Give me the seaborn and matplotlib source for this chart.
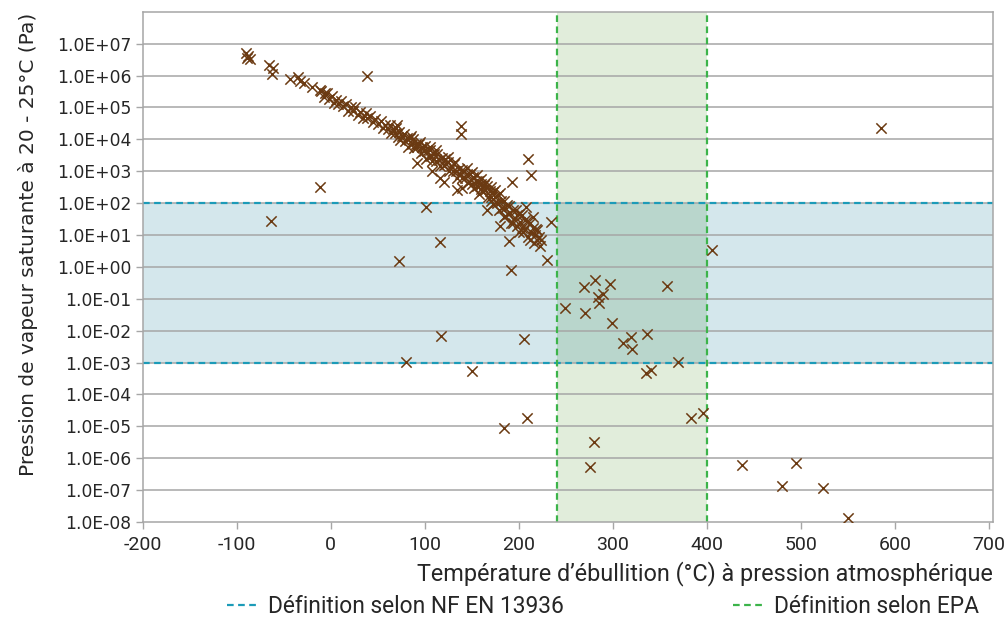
import matplotlib
matplotlib.use("Agg")
import matplotlib.pyplot as plt
import matplotlib.ticker as mticker
from matplotlib.lines import Line2D
import numpy as np
import pandas as pd
import seaborn as sns

# ---- data: boiling point (°C) and saturated vapour pressure (Pa) ----
cluster_T = [
    -90, -89, -88, -86, -66, -61, -63, -43, -35, -33, -29, -20, -11, -6,
    -10, -7, -4, -2, 1, 3, 6, 8, 11, 13, 16, 18, 21, 24, 26, 29, 31, 34, 37, 39,
    42, 45, 47, 50, 53, 56, 58, 61,
    63, 64, 66, 68, 69, 71, 73, 74, 76, 78, 79, 81, 82, 84, 86, 87, 89, 91, 92,
    94, 96, 97, 99, 100, 101, 102, 104, 105, 107, 108, 110, 112, 113, 115, 116,
    118, 120, 121, 123, 125, 126, 128, 130, 131, 133, 134, 136, 137, 139, 140,
    92, 116, 120, 108, 134, 140,
    142, 143, 145, 146, 148, 149, 151, 152, 154, 155, 157, 158, 160, 161, 163,
    164, 166, 167, 169, 170, 172, 173, 175, 176, 178, 179, 181, 182, 184, 185,
    187, 188, 190, 191, 192, 194, 195, 197, 198, 200, 201, 203, 204, 206, 207,
    209, 210, 212, 213, 215, 216, 218, 219, 221, 222, 224,
    190, 212, 217, 200, 180,
    185, 198, 203, 215, 219, 208, 177, 166, 184, 194,
    70, 85, 95, 105, 112, 125, 132, 145, 150, 155, 160, 165, 170, 175, 180,
    150, 160, 170,
]
cluster_P = [
    5.2e6, 3.5e6, 4.2e6, 3.3e6, 2.1e6, 1.7e6, 1.15e6, 7.8e5, 9.3e5, 6.5e5, 5.8e5, 4.3e5, 3.6e5, 2.8e5,
    3.2e5, 2.1e5, 2.9e5, 1.9e5, 2.2e5, 1.35e5, 1.7e5, 1.26e5, 1.6e5, 1.07e5, 1.26e5, 7.8e4, 1.05e5,
    7.6e4, 1.0e5, 5.9e4, 7.4e4, 4.8e4, 6.6e4, 4.8e4, 5.2e4, 3.4e4, 4.3e4, 3.0e4, 3.7e4, 2.3e4, 2.9e4, 2.1e4,
    2.75e4, 1.6e4, 2.1e4, 1.55e4, 2.3e4, 1.2e4, 1.65e4, 9.3e3, 1.26e4, 1.45e4, 8.7e3, 1.07e4, 5.9e3,
    1.1e4, 7.1e3, 1.0e4, 5.4e3, 7.2e3, 5.9e3, 7.2e3, 3.7e3, 5.6e3, 4.2e3, 6.3e3, 2.4e3, 4.3e3, 3.0e3,
    4.6e3, 3.0e3, 2.1e3, 3.5e3, 2.1e3, 3.5e3, 2.2e3, 1.45e3, 2.5e3, 1.6e3, 2.4e3, 1.65e3, 1.95e3, 9.8e2,
    1.5e3, 1.05e3, 1.65e3, 1.05e3, 6.3e2, 1.15e3, 7.9e2, 1.1e3, 6.3e2,
    1.8e3, 6.0e2, 4.7e2, 1.0e3, 2.6e2, 3.0e2,
    1.0e3, 6.2e2, 7.9e2, 4.3e2, 8.1e2, 5.2e2, 6.5e2, 2.9e2, 5.0e2, 3.4e2, 5.1e2, 1.95e2, 4.0e2, 2.4e2,
    3.8e2, 2.5e2, 3.5e2, 1.5e2, 2.4e2, 1.6e2, 2.3e2, 9.5e1, 1.6e2, 1.07e2, 1.8e2, 6.0e1, 1.2e2, 7.2e1,
    1.17e2, 4.0e1, 8.9e1, 4.7e1, 8.3e1, 5.0e1, 2.3e1, 5.9e1, 3.2e1, 6.0e1, 1.95e1, 4.5e1, 2.6e1, 4.1e1,
    1.2e1, 3.0e1, 1.55e1, 2.7e1, 8.9, 2.3e1, 1.2e1, 1.6e1, 5.8, 1.5e1, 6.9, 8.7, 4.6, 7.2,
    6.5, 6.9, 10.0, 12.0, 19.0,
    69, 43, 16, 37, 14.5, 78, 98, 60, 37, 23,
    2.8e4, 1.3e4, 8.5e3, 5.8e3, 4.5e3, 2.8e3, 2.0e3, 1.3e3, 9.5e2, 7.5e2, 5.5e2, 4.5e2, 3.3e2, 2.6e2, 2.0e2,
    4.0e2, 2.8e2, 1.2e2,
]
outlier_T = [
    -64, -11, 38, 73, 80, 101, 116, 117, 138, 138, 150, 184, 192, 193, 205, 209,
    210, 213, 230, 234, 249, 269, 270, 276, 280, 281, 284, 285, 289, 297, 299,
    311, 319, 320, 335, 336, 340, 357, 369, 383, 396, 405, 437, 480, 495, 523,
    550, 585,
]
outlier_P = [
    28, 320, 9.5e5, 1.5, 1.05e-3, 78, 6.0, 7.0e-3, 2.7e4, 1.5e4, 5.5e-4, 9.0e-6,
    0.8, 4.5e2, 5.5e-3, 1.8e-5, 2.4e3, 7.5e2, 1.7, 25, 5.0e-2, 0.23, 0.035,
    5.5e-7, 3.3e-6, 0.38, 0.115, 0.072, 0.14, 0.30, 0.018, 4.2e-3, 6.2e-3,
    2.6e-3, 4.6e-4, 8.0e-3, 5.7e-4, 0.25, 1.05e-3, 1.8e-5, 2.6e-5, 3.5,
    6.3e-7, 1.3e-7, 7.0e-7, 1.2e-7, 1.3e-8, 2.2e4,
]

nf_en_range = (1e-3, 1e2)      # NF EN 13936 definition (Pa)
epa_range = (240, 400)         # EPA definition (°C)

x_ticks = [-200, -100, 0, 100, 200, 300, 400, 500, 600, 700]
y_ticks = [10.0 ** e for e in range(-8, 8)]

xlabel = "Température d’ébullition (°C) à pression atmosphérique"
ylabel = "Pression de vapeur saturante à 20 - 25°C (Pa)"
legend_labels = ["Définition selon NF EN 13936", "Définition selon EPA"]

df = pd.DataFrame({
    "T": cluster_T + outlier_T,
    "P": cluster_P + outlier_P,
})

# ---- styling ----
sns.set_theme(style="white")
plt.rcParams["font.family"] = ["DejaVu Sans"]
plt.rcParams["axes.unicode_minus"] = False

narrow = "Roboto"
brown = "#6B3A12"
grid_gray = "#A6A6A6"
blue_line = "#1C9BB8"
green_line = "#3CB44A"
blue_fill = "#D4E7EC"
green_fill = "#E1EDDB"
overlap_fill = "#B9D6CC"
text_col = "#262626"

fig = plt.figure(figsize=(10.07, 6.30), dpi=100)
ax = fig.add_axes([0.1417, 0.1714, 0.9860 - 0.1417, 0.9814 - 0.1714])

ax.set_yscale("log")
ax.set_xlim(-200, 704)
ax.set_ylim(1e-8, 1e8)

# bands
ax.axhspan(nf_en_range[0], nf_en_range[1], color=blue_fill, lw=0, zorder=0)
ax.axvspan(epa_range[0], epa_range[1], color=green_fill, lw=0, zorder=0)
ax.fill_between(list(epa_range), nf_en_range[0], nf_en_range[1],
                color=overlap_fill, lw=0, zorder=0.5)

# grid
for yt in y_ticks[1:]:
    ax.axhline(yt, color=grid_gray, lw=1.1, zorder=1)

# definition lines
for yv in nf_en_range:
    ax.axhline(yv, color=blue_line, lw=1.6, ls=(0, (3, 2)), zorder=2)
for xv in epa_range:
    ax.axvline(xv, color=green_line, lw=1.6, ls=(0, (3, 2)), zorder=2)

sns.scatterplot(data=df, x="T", y="P", marker="x", color=brown, s=55,
                linewidth=1.1, ax=ax, zorder=3, legend=False)

ax.set_xticks(x_ticks)
ax.set_yticks(y_ticks)
ax.yaxis.set_major_formatter(mticker.FuncFormatter(lambda v, p: f"{v:.1E}"))
ax.yaxis.set_minor_locator(mticker.NullLocator())
ax.tick_params(axis="both", which="major", direction="out", length=5,
               width=1, color=grid_gray, labelcolor=text_col,
               left=True, bottom=True, pad=3)
ax.tick_params(axis="y", labelsize=12.3)
ax.tick_params(axis="x", labelsize=14, pad=5)
for lab in ax.get_xticklabels():
    lab.set_family(narrow)
for sp in ax.spines.values():
    sp.set_color(grid_gray)
    sp.set_linewidth(1.1)

ax.set_xlabel(xlabel, loc="right", fontsize=16.8, color=text_col, labelpad=5,
              family=narrow)
ax.set_ylabel(ylabel, fontsize=14.5, color=text_col)
ax.yaxis.set_label_coords(-0.123, 0.545)

h_blue = Line2D([0], [0], color=blue_line, lw=1.6, ls=(0, (3, 2)))
h_green = Line2D([0], [0], color=green_line, lw=1.6, ls=(0, (3, 2)))
common = dict(loc="center left", frameon=False, borderpad=0, borderaxespad=0,
              prop={"family": narrow, "size": 16.4}, handlelength=1.4,
              handletextpad=0.4, labelcolor=text_col)
leg1 = fig.legend([h_blue], [legend_labels[0]], bbox_to_anchor=(0.225, 0.038), **common)
leg2 = fig.legend([h_green], [legend_labels[1]], bbox_to_anchor=(0.728, 0.038), **common)

fig.savefig("out.png", dpi=100)
